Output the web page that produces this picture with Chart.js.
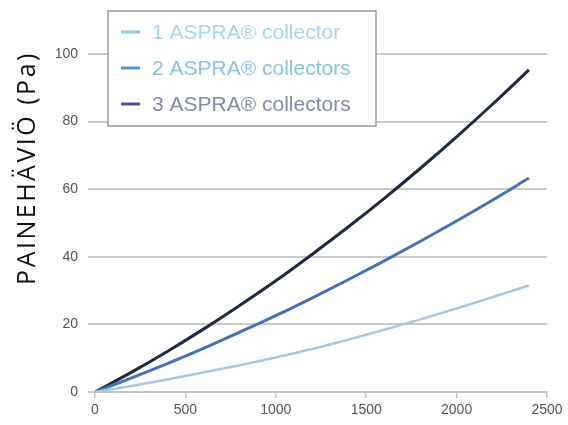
<!DOCTYPE html>
<html>
<head>
<meta charset="utf-8">
<script src="https://cdn.jsdelivr.net/npm/chart.js@4.4.1/dist/chart.umd.min.js"></script>
<style>
	html, body { margin: 0; padding: 0; background: #fff; overflow: hidden; }
	#wrap { width: 568px; height: 425px; position: relative; }
</style>
</head>
<body>
<div id="wrap"><canvas id="pressureChart"></canvas></div>
<script>
// flow values (x axis) and pressure drop per collector count
const flow = [0, 200, 400, 600, 800, 1000, 1200, 1400, 1600, 1800, 2000, 2200, 2400];
const oneCollector = [0, 1.8, 3.7, 5.8, 7.9, 10.2, 12.7, 15.5, 18.4, 21.5, 24.7, 28.1, 31.5];
const twoCollectors = [0, 4.1, 8.4, 12.9, 17.7, 22.6, 27.8, 33.2, 38.8, 44.6, 50.6, 56.8, 63.3];
const threeCollectors = [0, 5.8, 12.0, 18.6, 25.6, 32.9, 40.7, 48.8, 57.3, 66.2, 75.5, 85.2, 95.3];

const seriesLabels = ['1 ASPRA® collector', '2 ASPRA® collectors', '3 ASPRA® collectors'];
const xTicks = [0, 500, 1000, 1500, 2000, 2500];
const yTicks = [0, 20, 40, 60, 80, 100];
const yTitle = 'PAINEHÄVIÖ (Pa)';

const lineColors = ['#a9c7e0', '#4373b4', '#1e2a42'];
const legendSwatch = ['#8ecbe9', '#3e9fd6', '#4d5490'];
const legendText = ['#a6d4ee', '#86c2e4', '#8589b0'];

const toPoints = (ys) => ys.map((y, i) => ({ x: flow[i], y }));

// legend box sits inside the plot, over the top gridlines
const boxLegend = {
	id: 'boxLegend',
	afterDraw(chart) {
		const ctx = chart.ctx;
		ctx.save();
		ctx.fillStyle = '#fff';
		ctx.fillRect(108, 11, 268, 115);
		ctx.strokeStyle = '#9a9a9a';
		ctx.lineWidth = 1.5;
		ctx.strokeRect(108, 11, 268, 115);
		ctx.font = '21px "Liberation Sans", Arial, sans-serif';
		ctx.textBaseline = 'middle';
		seriesLabels.forEach((label, i) => {
			const y = 32 + i * 36;
			ctx.strokeStyle = legendSwatch[i];
			ctx.lineWidth = 3;
			ctx.beginPath();
			ctx.moveTo(121, y);
			ctx.lineTo(140, y);
			ctx.stroke();
			ctx.fillStyle = legendText[i];
			ctx.fillText(label, 152, y + 1);
		});
		ctx.restore();
	}
};

// y title is set higher than the middle of the axis, so draw it by hand
const sideTitle = {
	id: 'sideTitle',
	afterDraw(chart) {
		const ctx = chart.ctx;
		ctx.save();
		ctx.translate(28, 168);
		ctx.rotate(-Math.PI / 2);
		ctx.font = '25px "Open Sans", "Noto Sans", sans-serif';
		ctx.letterSpacing = '2.5px';
		ctx.fillStyle = '#111';
		ctx.textAlign = 'center';
		ctx.textBaseline = 'middle';
		ctx.fillText(yTitle, 0, 0);
		ctx.restore();
	}
};

const datasets = [oneCollector, twoCollectors, threeCollectors].map((ys, i) => ({
	label: seriesLabels[i],
	data: toPoints(ys),
	borderColor: lineColors[i],
	borderWidth: i === 0 ? 2.5 : 3,
	pointRadius: 0,
	cubicInterpolationMode: 'monotone',
	fill: false
}));

const tickFont = { family: '"Liberation Sans", Arial, sans-serif', size: 14 };

new Chart(document.getElementById('pressureChart'), {
	type: 'line',
	data: { datasets },
	plugins: [boxLegend, sideTitle],
	options: {
		responsive: true,
		maintainAspectRatio: false,
		animation: false,
		layout: { padding: { top: 54, right: 21, left: 0, bottom: 0 } },
		plugins: {
			legend: { display: false },
			tooltip: { enabled: false }
		},
		scales: {
			x: {
				type: 'linear',
				min: 0,
				max: 2500,
				afterBuildTicks: (scale) => { scale.ticks = xTicks.map(v => ({ value: v })); },
				ticks: { color: '#555', font: tickFont, padding: 4, maxRotation: 0, callback: (v) => String(v) },
				grid: { drawOnChartArea: false, drawTicks: true, tickLength: 6, color: '#c4c4c4', lineWidth: 1.5 },
				border: { display: true, color: '#c4c4c4', width: 2 },
				afterFit: (scale) => { scale.height = 33; }
			},
			y: {
				min: 0,
				max: 100,
				afterBuildTicks: (scale) => { scale.ticks = yTicks.map(v => ({ value: v })); },
				ticks: { color: '#555', font: tickFont, padding: 10, callback: (v) => String(v) },
				grid: { color: '#cacaca', lineWidth: 2, tickLength: 7 },
				border: { display: false },
				afterFit: (scale) => { scale.width = 95; }
			}
		}
	}
});
</script>
</body>
</html>
